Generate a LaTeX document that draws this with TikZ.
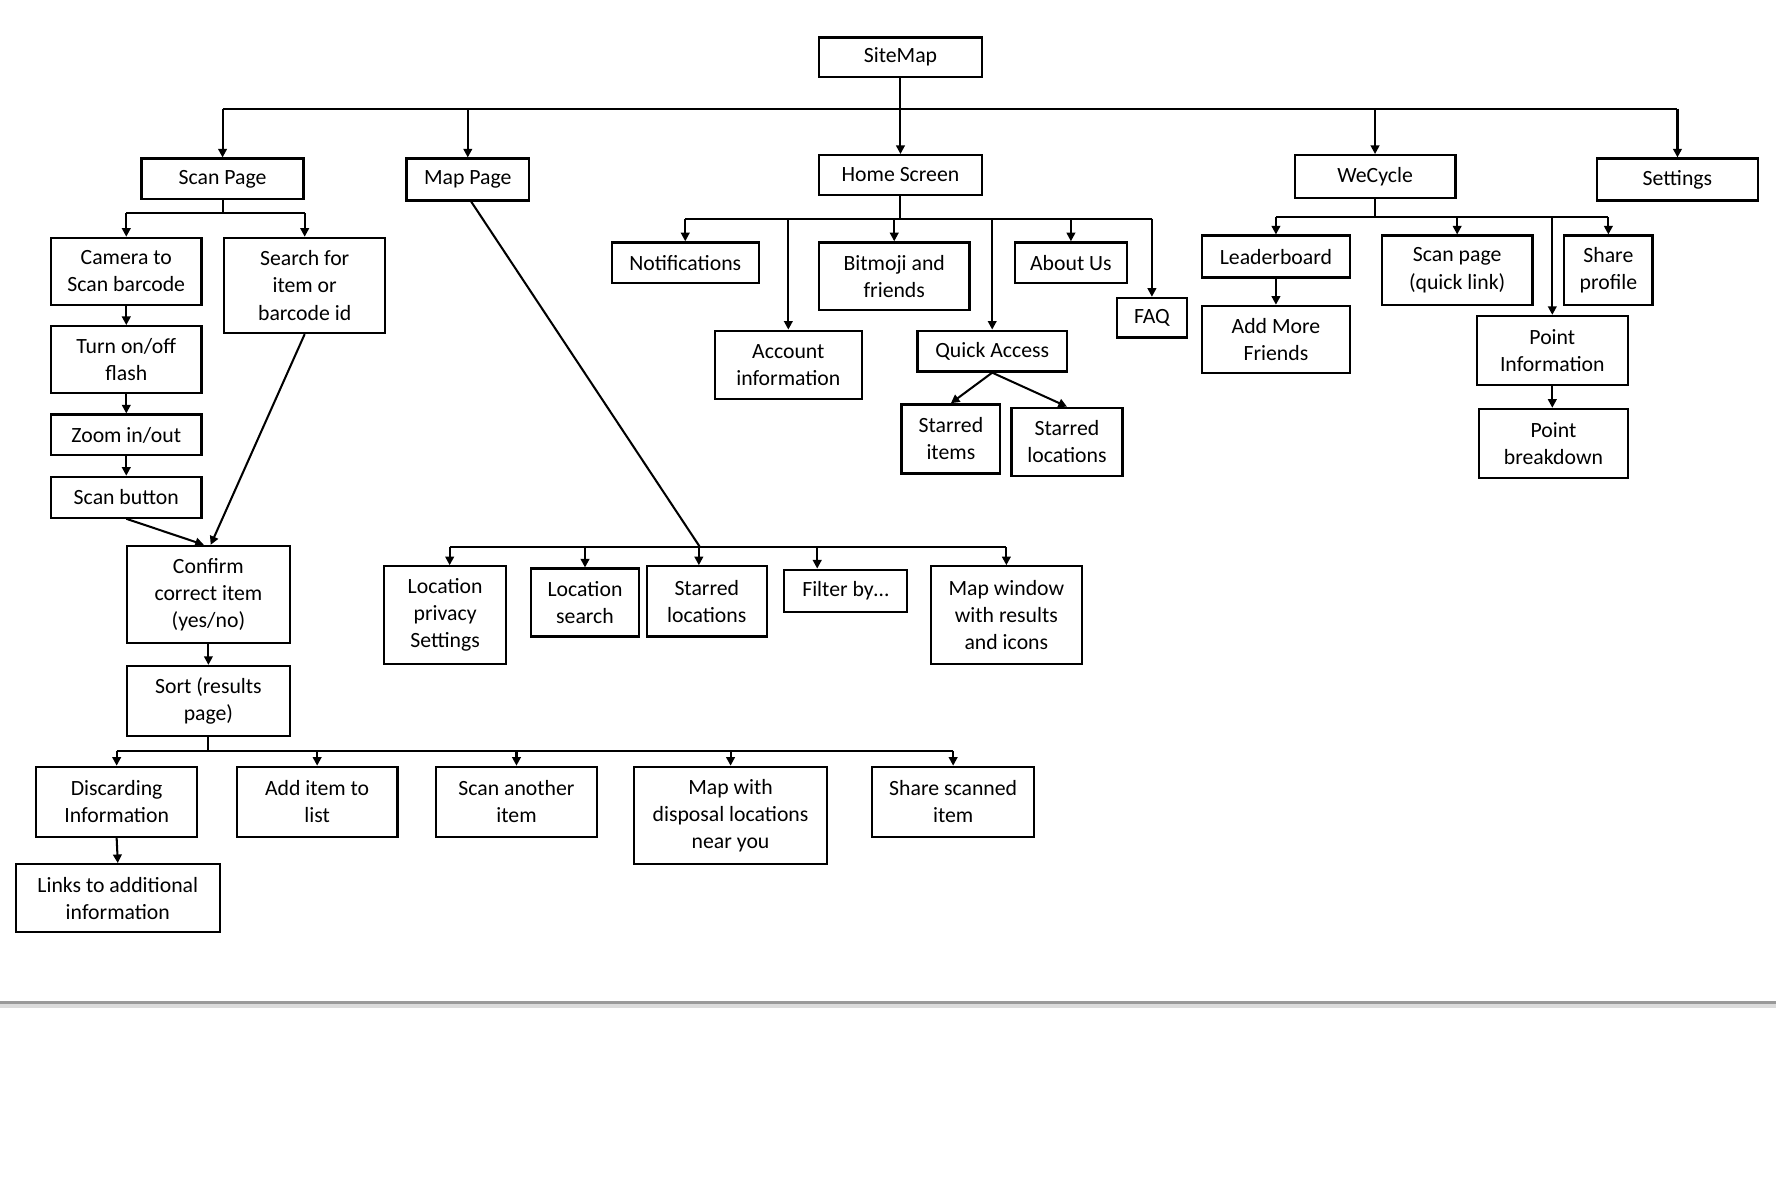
\documentclass[tikz,border=0pt]{standalone}
\usepackage{fontspec}
\setmainfont{Carlito}
\usetikzlibrary{arrows.meta}
\newcommand{\bx}[6]{\node[box, minimum width={(#4-#2)*0.5pt}, minimum height={(#5-#3)*0.5pt}] (#1) at ({(#2+#4)/2},{(#3+#5)/2}) {#6};}
\begin{document}
\begin{tikzpicture}[x=0.5pt,y=-0.5pt,
  box/.style={draw, line width=1pt, align=center, inner sep=0pt, font=\fontsize{9.6}{12}\selectfont},
  arr/.style={line width=0.9pt, -{Triangle[length=3.8pt,width=3.8pt]}},
  ln/.style={line width=0.9pt}]
\useasboundingbox (0,0) rectangle (1568,1045.3);
% boxes
\bx{sitemap}{723}{33}{867}{68}{SiteMap}
\bx{scan}{125}{140}{268}{176}{Scan Page}
\bx{map}{359}{140}{467}{177}{Map Page}
\bx{home}{723}{137}{867}{172}{Home Screen}
\bx{wecycle}{1143}{137}{1285}{175}{WeCycle}
\bx{settings}{1410}{140}{1552}{177}{Settings}
\bx{camera}{45}{210}{178}{269}{Camera to\\Scan barcode}
\bx{search}{198}{210}{340}{294}{Search for\\item or\\barcode id}
\bx{flash}{45}{288}{178}{347}{Turn on/off\\flash}
\bx{zoom}{45}{366}{178}{402}{Zoom in/out}
\bx{scanbtn}{45}{421}{178}{457}{Scan button}
\bx{confirm}{112}{482}{256}{568}{Confirm\\correct item\\(yes/no)}
\bx{sort}{112}{588}{256}{650}{Sort (results\\page)}
\bx{discard}{32}{677}{174}{739}{Discarding\\Information}
\bx{additem}{209}{677}{351}{739}{Add item to\\list}
\bx{scanother}{385}{677}{527}{739}{Scan another\\item}
\bx{mapdisp}{560}{677}{730}{763}{Map with\\disposal locations\\near you}
\bx{share}{770}{677}{913}{739}{Share scanned\\item}
\bx{links}{14}{763}{194}{823}{Links to additional\\information}
\bx{locpriv}{339}{500}{447}{586}{Location\\privacy\\Settings}
\bx{locsearch}{469}{502}{564}{562}{Location\\search}
\bx{starloc}{571}{500}{677}{562}{Starred\\locations}
\bx{filter}{692}{503}{801}{540}{Filter by…}
\bx{mapwin}{822}{500}{955}{586}{Map window\\with results\\and icons}
\bx{notif}{540}{214}{670}{250}{Notifications}
\bx{account}{631}{292}{761}{352}{Account\\information}
\bx{bitmoji}{723}{214}{856}{274}{Bitmoji and\\friends}
\bx{quick}{810}{292}{942}{328}{Quick Access}
\bx{about}{896}{214}{995}{250}{About Us}
\bx{faq}{986}{263}{1048}{298}{FAQ}
\bx{staritems}{796}{357}{883}{418}{Starred\\items}
\bx{starlocs}{893}{360}{991}{420}{Starred\\locations}
\bx{leader}{1061}{208}{1192}{245}{Leaderboard}
\bx{addfr}{1061}{270}{1192}{329}{Add More\\Friends}
\bx{scanq}{1220}{208}{1353}{269}{Scan page\\(quick link)}
\bx{sharep}{1381}{208}{1459}{269}{Share\\profile}
\bx{pinfo}{1304}{279}{1437}{340}{Point\\Information}
\bx{pbreak}{1306}{361}{1437}{422}{Point\\breakdown}
% top level
\coordinate (tb) at (795,96);
\draw[ln] (scan.north |- tb) -- (settings.north |- tb);
\draw[arr] (sitemap.south) -- (home.north);
\foreach \n in {scan,map,wecycle,settings} \draw[arr] (\n.north |- tb) -- (\n.north);
% scan page
\coordinate (sb) at (195,188);
\draw[ln] (scan.south) -- (scan.south |- sb);
\draw[ln] (camera.north |- sb) -- (search.north |- sb);
\foreach \n in {camera,search} \draw[arr] (\n.north |- sb) -- (\n.north);
\draw[arr] (camera.south) -- (flash.north);
\draw[arr] (flash.south) -- (zoom.north);
\draw[arr] (zoom.south) -- (scanbtn.north);
\draw[arr] (scanbtn.south) -- ([xshift=-2pt]confirm.north);
\draw[arr] (search.south) -- ([xshift=1pt]confirm.north);
\draw[arr] (confirm.south) -- (sort.north);
\coordinate (rb) at (185,663);
\draw[ln] (sort.south) -- (sort.south |- rb);
\draw[ln] (discard.north |- rb) -- (share.north |- rb);
\foreach \n in {discard,additem,scanother,mapdisp,share} \draw[arr] (\n.north |- rb) -- (\n.north);
\draw[arr] (discard.south) -- (links.north);
% map page
\coordinate (mb) at (618,483);
\coordinate (d1) at ([xshift=2pt]locpriv.north);
\coordinate (d3) at ([xshift=-3.5pt]starloc.north);
\coordinate (d4) at ([xshift=-12.5pt]filter.north);
\draw[ln] ([xshift=1.5pt]map.south) -- (mb);
\draw[ln] (d1 |- mb) -- (mapwin.north |- mb);
\foreach \n in {d1,locsearch.north,d3,d4,mapwin.north} \draw[arr] (\n |- mb) -- (\n);
% home screen
\coordinate (hb) at (795,193);
\draw[ln] (home.south) -- (home.south |- hb);
\draw[ln] (notif.north |- hb) -- (faq.north |- hb);
\foreach \n in {notif,account,bitmoji,quick,about,faq} \draw[arr] (\n.north |- hb) -- (\n.north);
\draw[arr] (quick.south) -- (staritems.north);
\draw[arr] (quick.south) -- (starlocs.north);
% wecycle
\coordinate (wb) at (1214,192);
\draw[ln] (wecycle.south) -- (wecycle.south |- wb);
\draw[ln] (leader.north |- wb) -- (sharep.north |- wb);
\foreach \n in {leader,scanq,pinfo,sharep} \draw[arr] (\n.north |- wb) -- (\n.north);
\draw[arr] (leader.south) -- (addfr.north);
\draw[arr] (pinfo.south) -- (pinfo.south |- pbreak.north);
% grey separator
\fill[black!40] (0,884) rectangle (1568,886.5);
\fill[black!14] (0,886.5) rectangle (1568,890);
\end{tikzpicture}
\end{document}
